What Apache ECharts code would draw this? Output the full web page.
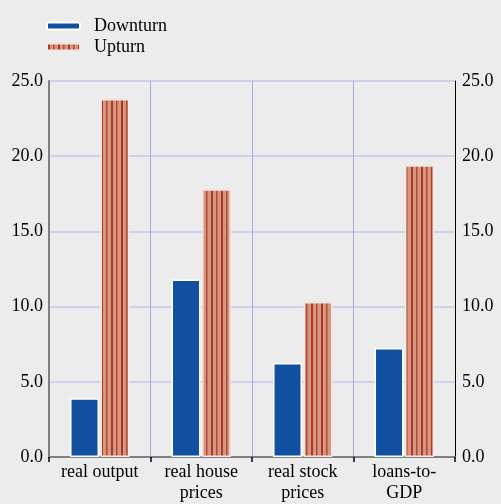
<!DOCTYPE html>
<html>
<head>
<meta charset="utf-8">
<script src="https://cdn.jsdelivr.net/npm/echarts@6/dist/echarts.min.js"></script>
<style>
html,body{margin:0;padding:0;background:#ececec;}
#chart{width:501px;height:504px;}
</style>
</head>
<body>
<div id="chart"></div>
<script>
const categories = ['real output', 'real house\nprices', 'real stock\nprices', 'loans-to-\nGDP'];
const seriesNames = ['Downturn', 'Upturn'];
const downturn = [3.9, 11.8, 6.25, 7.25];
const upturn = [23.8, 17.8, 10.3, 19.4];
const yTicks = [0, 5, 10, 15, 20, 25];

const FONT = 'Liberation Serif';
const FS = 18;

// striped fill pattern for the Upturn bars
const tile = document.createElement('canvas');
tile.width = 10; tile.height = 4;
const tctx = tile.getContext('2d');
tctx.fillStyle = '#d9967f';
tctx.fillRect(0, 0, 10, 4);
tctx.fillStyle = '#a8392b';
tctx.fillRect(1, 0, 2, 4);
tctx.fillStyle = '#b04a38';
tctx.fillRect(6, 0, 1.5, 4);

const chart = echarts.init(document.getElementById('chart'));

const yAxisBase = {
  type: 'value',
  min: yTicks[0],
  max: yTicks[yTicks.length - 1],
  interval: yTicks[1] - yTicks[0],
  axisLabel: {
    color: '#000', fontFamily: FONT, fontSize: FS,
    formatter: v => v.toFixed(1)
  },
  axisTick: { show: false }
};

chart.setOption({
  backgroundColor: '#ececec',
  animation: false,
  textStyle: { fontFamily: FONT },
  legend: {
    orient: 'vertical',
    left: 41,
    top: 12,
    itemWidth: 33,
    itemHeight: 7,
    itemGap: 3,
    textStyle: { color: '#000', fontFamily: FONT, fontSize: FS, padding: [0, 0, 0, 9] },
    data: seriesNames
  },
  grid: { left: 49, right: 46, top: 81, bottom: 45.5, containLabel: false },
  xAxis: {
    type: 'category',
    data: categories,
    axisLine: { lineStyle: { color: '#808080', width: 2 } },
    axisTick: { show: true, length: 5, lineStyle: { color: '#000', width: 1.5 } },
    axisLabel: { color: '#000', fontFamily: FONT, fontSize: FS, lineHeight: 21, margin: 5, interval: 0 },
    splitLine: { show: true, lineStyle: { color: '#a3aae6', width: 1 } }
  },
  yAxis: [
    Object.assign({}, yAxisBase, {
      position: 'left',
      axisLine: { show: true, lineStyle: { color: '#808080', width: 2 } },
      axisLabel: Object.assign({}, yAxisBase.axisLabel, { margin: 6 }),
      splitLine: { show: true, lineStyle: { color: '#c5c9ec', width: 1.5 } }
    }),
    Object.assign({}, yAxisBase, {
      position: 'right',
      axisLine: { show: true, lineStyle: { color: '#000', width: 1 } },
      axisLabel: Object.assign({}, yAxisBase.axisLabel, { margin: 7 }),
      splitLine: { show: false }
    })
  ],
  series: [
    {
      name: seriesNames[0],
      type: 'bar',
      data: downturn,
      barWidth: 29,
      barGap: '5%',
      itemStyle: { color: '#1150a0', borderColor: '#ffffff', borderWidth: 1.5 }
    },
    {
      name: seriesNames[1],
      type: 'bar',
      data: upturn,
      barWidth: 29,
      itemStyle: {
        color: { image: tile, repeat: 'repeat' },
        borderColor: '#f4e6e0',
        borderWidth: 1.5
      }
    }
  ]
});
</script>
</body>
</html>
